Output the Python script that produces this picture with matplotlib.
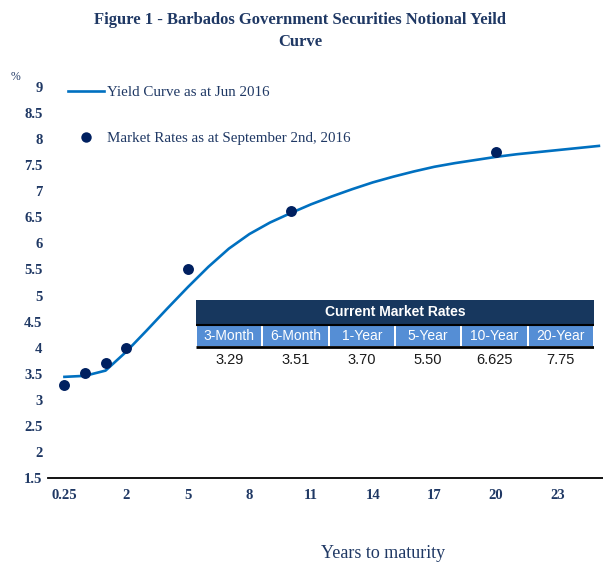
import numpy as np
import matplotlib
matplotlib.use("Agg")
import matplotlib.pyplot as plt
from matplotlib.lines import Line2D
from matplotlib.patches import Rectangle

# ---------------- data ----------------
curve_maturity = [0.25, 0.5, 1, 2, 3, 4, 5, 6, 7, 8, 9, 10, 11, 12, 13, 14, 15,
                  16, 17, 18, 19, 20, 21, 22, 23, 24, 25]
curve_yield = [3.44, 3.46, 3.56, 3.92, 4.33, 4.75, 5.16, 5.55, 5.90, 6.18, 6.40,
               6.58, 6.75, 6.90, 7.04, 7.17, 7.28, 7.38, 7.47, 7.54, 7.60, 7.66,
               7.71, 7.75, 7.79, 7.83, 7.87]
market_maturity = [0.25, 0.5, 1, 2, 5, 10, 20]
market_rate = [3.29, 3.51, 3.70, 4.00, 5.50, 6.625, 7.75]

x_tick_values = [0.25, 2, 5, 8, 11, 14, 17, 20, 23]
x_tick_labels = ["0.25", "2", "5", "8", "11", "14", "17", "20", "23"]
y_tick_values = [1.5, 2, 2.5, 3, 3.5, 4, 4.5, 5, 5.5, 6, 6.5, 7, 7.5, 8, 8.5, 9]
y_tick_labels = ["1.5", "2", "2.5", "3", "3.5", "4", "4.5", "5", "5.5", "6",
                 "6.5", "7", "7.5", "8", "8.5", "9"]

table_title = "Current Market Rates"
table_labels = ["3-Month", "6-Month", "1-Year", "5-Year", "10-Year", "20-Year"]
table_values = ["3.29", "3.51", "3.70", "5.50", "6.625", "7.75"]

title = "Figure 1 - Barbados Government Securities Notional Yeild\nCurve"
xlabel = "Years to maturity"
legend_curve = "Yield Curve as at Jun 2016"
legend_points = "Market Rates as at September 2nd, 2016"


# axis position of a maturity (short end spread out as in the original)
def pos(m):
    m = np.asarray(m, dtype=float)
    return np.where(m < 1, np.log2(m) + 1, m)


NAVY = "#1F3864"
CURVE = "#0070C0"
DOT = "#002060"
SERIF = ["Liberation Serif", "DejaVu Serif"]
NARROW = ["Liberation Sans Narrow", "Liberation Sans", "DejaVu Sans"]

W, H = 603, 565
fig = plt.figure(figsize=(W / 100, H / 100), dpi=100)
fig.patch.set_facecolor("white")

left, right, bottom, top = 48, 603, 478, 87
ax = fig.add_axes([left / W, 1 - bottom / H, (right - left) / W, (bottom - top) / H])
ax.set_facecolor("none")

ax.plot(pos(curve_maturity), curve_yield, color=CURVE, lw=1.9, zorder=2,
        solid_joinstyle="round")
ax.scatter(pos(market_maturity), market_rate, s=62, color=DOT, zorder=3,
           linewidths=0)

ax.set_xlim(-1.80, 25.2)
ax.set_ylim(1.5, 9)

ax.set_xticks(pos(x_tick_values))
ax.set_xticklabels(x_tick_labels, family=SERIF, fontweight="bold",
                   fontsize=10.5, color=NAVY)
ax.set_yticks(y_tick_values)
ax.set_yticklabels(y_tick_labels, family=SERIF, fontweight="bold",
                   fontsize=10.5, color=NAVY)
ax.tick_params(axis="both", length=0)
ax.tick_params(axis="x", pad=8)
ax.tick_params(axis="y", pad=4)
for s in ["top", "right", "left"]:
    ax.spines[s].set_visible(False)
ax.spines["bottom"].set_linewidth(1.3)
ax.spines["bottom"].set_color("black")

# percent sign
fig.text(11 / W, 1 - 77 / H, "%", family=SERIF, fontsize=8.5, color=NAVY,
         va="center", ha="left")

# title
fig.text(300 / W, 1 - 30.5 / H, title, family=SERIF, fontweight="bold",
         fontsize=12, color=NAVY, ha="center", va="center", linespacing=1.5)

# x label
fig.text(383 / W, 1 - 553 / H, xlabel, family=SERIF, fontsize=13,
         color=NAVY, ha="center", va="center")

# legend
handles = [Line2D([], [], color=CURVE, lw=1.9),
           Line2D([], [], color=DOT, marker="o", ls="none", markersize=7.5,
                  markeredgewidth=0)]
leg = fig.legend(handles, [legend_curve, legend_points], loc="upper left",
                 bbox_to_anchor=(68 / W, 1 - 86 / H), frameon=False,
                 prop={"family": SERIF, "size": 10.8}, labelspacing=2.15,
                 handlelength=2.4, handletextpad=0.2, borderpad=0,
                 borderaxespad=0)
for t in leg.get_texts():
    t.set_color(NAVY)

# table
tl, tr, ttop, tbot = 196, 594, 300, 373
tax = fig.add_axes([tl / W, 1 - tbot / H, (tr - tl) / W, (tbot - ttop) / H])
tax.set_xlim(0, len(table_labels))
tax.set_ylim(0, 73)
tax.axis("off")
n = len(table_labels)
tax.add_patch(Rectangle((0, 48), n, 25, facecolor="#17375E", edgecolor="none"))
tax.text(n / 2, 60.5, table_title, family=NARROW, fontweight="bold",
         fontsize=10, color="white", ha="center", va="center")
for i, lab in enumerate(table_labels):
    tax.add_patch(Rectangle((i + 0.015, 27), 0.97, 21, facecolor="#558ED5",
                            edgecolor="none"))
    tax.text(i + 0.5, 37, lab, family=NARROW, fontsize=10, color="white",
             ha="center", va="center")
    tax.text(i + 0.5, 13, table_values[i], family=NARROW, fontsize=10.5,
             color="#1a1a1a", ha="center", va="center")
tax.plot([0, n], [48, 48], color="black", lw=1.5, solid_capstyle="butt")
tax.plot([0, n], [26.5, 26.5], color="black", lw=2.0, solid_capstyle="butt")

fig.savefig("out.png", dpi=100, facecolor="white")
